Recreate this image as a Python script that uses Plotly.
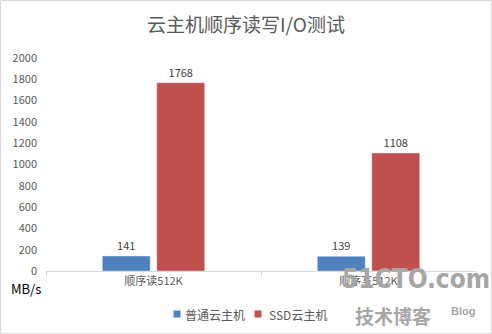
import plotly.graph_objects as go

categories = ["顺序读512K", "顺序写512K"]
normal_vals = [141, 139]
ssd_vals = [1768, 1108]
series_names = ["普通云主机", "SSD云主机"]
series_colors = ["#4F81BD", "#C0504D"]
y_ticks = list(range(0, 2001, 200))

W, H = 492, 334
L, R, T, B = 46, 16, 58, 63
pw, ph = W - L - R, H - T - B

def px(x):
    return (x - L) / pw

def py(y):
    return (H - B - y) / ph

font = "Microsoft YaHei, Noto Sans CJK SC, sans-serif"

fig = go.Figure()
for name, vals, col in zip(series_names, [normal_vals, ssd_vals], series_colors):
    fig.add_trace(go.Bar(x=categories, y=vals, name=name,
                         marker_color=col, text=vals, textposition="outside",
                         textfont=dict(size=11, color="#404040"), cliponaxis=False,
                         showlegend=False))

fig.update_layout(
    width=W, height=H,
    margin=dict(l=L, r=R, t=T, b=B, autoexpand=False),
    paper_bgcolor="white", plot_bgcolor="white",
    font=dict(family=font, color="#595959", size=11),
    title=dict(text="云主机顺序读写I/O测试", x=0.5, xanchor="center", y=1 - 25 / H, yanchor="middle",
               font=dict(size=19, color="#595959")),
    barmode="group", bargap=0.493, bargroupgap=0.12,
    xaxis=dict(showline=True, linecolor="#D9D9D9", linewidth=1, ticks="outside",
               tickcolor="#D9D9D9", ticklen=4, showgrid=False,
               tickfont=dict(size=11, color="#595959"), tickson="boundaries"),
    yaxis=dict(range=[0, 2000], tickvals=y_ticks, showgrid=False, zeroline=False,
               showline=False, tickfont=dict(size=11, color="#595959"), ticklabelstandoff=8),
)

# custom legend
legend_pos = [(177, 183), (258, 267)]
for (sx, tx), name, col in zip(legend_pos, series_names, series_colors):
    fig.add_shape(type="rect", xref="paper", yref="paper",
                  x0=px(sx - 3.5), x1=px(sx + 3.5), y0=py(317.5), y1=py(310.5),
                  fillcolor=col, line=dict(width=0))
    fig.add_annotation(text=name, xref="paper", yref="paper", x=px(tx), y=py(314),
                       showarrow=False, font=dict(size=12, color="#595959"),
                       xanchor="left", yanchor="middle")

fig.add_annotation(text="MB/s", xref="paper", yref="paper", x=px(26), y=py(288),
                   showarrow=False, font=dict(size=13, color="#000000"), xanchor="center", yanchor="middle")

# border
fig.add_shape(type="rect", xref="paper", yref="paper",
              x0=px(0.5), x1=px(491.5), y0=py(333.5), y1=py(0.5),
              line=dict(color="#D9D9D9", width=1), layer="below")

# watermark
wm = "DejaVu Sans Condensed, Liberation Sans Narrow, sans-serif"
fig.add_annotation(text="<b>51CTO.com</b>", xref="paper", yref="paper", x=px(416), y=py(279),
                   showarrow=False, font=dict(size=26, color="#A6A6A6", family=wm),
                   xanchor="center", yanchor="middle")
fig.add_annotation(text="<b>技术博客</b>", xref="paper", yref="paper", x=px(393), y=py(315),
                   showarrow=False, font=dict(size=19, color="#A6A6A6", family=font),
                   xanchor="center", yanchor="middle")
fig.add_annotation(text="<b>Blog</b>", xref="paper", yref="paper", x=px(463), y=py(311),
                   showarrow=False, font=dict(size=11, color="#A6A6A6", family="Arial, sans-serif"),
                   xanchor="center", yanchor="middle")

fig.write_html("out.html")
